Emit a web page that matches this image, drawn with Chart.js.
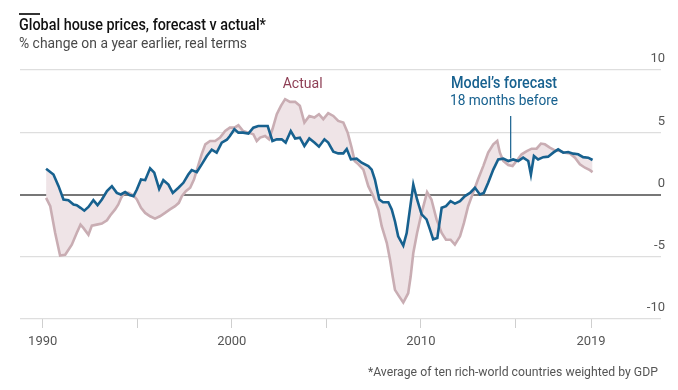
<!DOCTYPE html>
<html>
<head>
<meta charset="utf-8">
<script src="https://cdn.jsdelivr.net/npm/chart.js@4.4.1/dist/chart.umd.min.js"></script>
<style>
  body { margin: 0; background: #fff; }
  #wrap { position: relative; width: 678px; height: 390px; font-family: Roboto, "DejaVu Sans Condensed", sans-serif; }
  canvas { position: absolute; left: 0; top: 0; }
  .txt { position: absolute; white-space: nowrap; line-height: 1; }
  #rule { position: absolute; left: 19px; top: 13px; width: 21px; height: 2px; background: #333; }
  #title { left: 19px; top: 17px; font-size: 16.5px; font-weight: 500; color: #111; transform-origin: left top; }
  #subtitle { left: 19px; top: 36px; font-size: 15px; color: #4a4a4a; transform-origin: left top; }
  #note { right: 20px; top: 365px; font-size: 13.5px; color: #555; transform-origin: right top; }
</style>
</head>
<body>
<div id="wrap">
  <canvas id="chart" width="678" height="390"></canvas>
  <div id="rule"></div>
  <div class="txt" id="title" data-w="247">Global house prices, forecast v actual*</div>
  <div class="txt" id="subtitle" data-w="228">% change on a year earlier, real terms</div>
  <div class="txt" id="note" data-w="290">*Average of ten rich-world countries weighted by GDP</div>
</div>
<script>
const FONT = 'Roboto, "DejaVu Sans Condensed", sans-serif';

// Model's forecast made 18 months before (% change, real terms)
const forecastYears = [
  1990.18, 1990.57, 1990.84, 1991.1, 1991.36, 1991.63, 1991.8, 1992.0, 1992.2, 1992.42,
  1992.68, 1992.9, 1993.13, 1993.4, 1993.66, 1993.92, 1994.13, 1994.36, 1994.59, 1994.8,
  1994.98, 1995.2, 1995.42, 1995.68, 1995.9, 1996.16, 1996.38, 1996.65, 1996.88, 1997.18,
  1997.44, 1997.7, 1997.88, 1998.15, 1998.41, 1998.68, 1998.94, 1999.2, 1999.47, 1999.74,
  1999.9, 2000.14, 2000.35, 2000.6, 2000.88, 2001.14, 2001.4, 2001.67, 2001.9, 2002.15,
  2002.38, 2002.64, 2002.85, 2003.12, 2003.35, 2003.6, 2003.84, 2004.1, 2004.37, 2004.61,
  2004.9, 2005.1, 2005.37, 2005.63, 2005.9, 2006.08, 2006.3, 2006.6, 2006.87, 2007.22,
  2007.4, 2007.57, 2007.8, 2008.0, 2008.28, 2008.46, 2008.63, 2008.8, 2009.07, 2009.25,
  2009.42, 2009.6, 2009.8, 2010.04, 2010.3, 2010.48, 2010.65, 2010.87, 2011.1, 2011.33,
  2011.57, 2011.8, 2012.07, 2012.33, 2012.6, 2012.86, 2013.12, 2013.33, 2013.56, 2013.83,
  2014.09, 2014.36, 2014.62, 2014.88, 2015.15, 2015.41, 2015.68, 2015.82, 2015.98, 2016.2,
  2016.47, 2016.73, 2017.0, 2017.26, 2017.53, 2017.79, 2018.06, 2018.32, 2018.58, 2018.85,
  2019.08
];
const forecastValues = [
  2.07, 1.6, 0.67, -0.4, -0.46, -0.8, -0.86, -1.07, -1.3, -1.0,
  -0.46, -0.86, -0.4, 0.27, 0.67, 0.13, 0.0, 0.2, -0.05, -0.13,
  0.4, 1.2, 1.15, 2.1, 1.75, 0.45, 1.15, 0.8, 0.13, 0.54,
  0.94, 1.6, 1.96, 1.8, 2.42, 3.09, 3.6, 3.36, 4.17, 4.4,
  4.7, 5.24, 4.97, 4.97, 4.9, 5.37, 5.5, 5.5, 5.5, 4.3,
  4.43, 4.43, 4.17, 5.1, 4.5, 4.57, 3.9, 4.5, 4.17, 3.84,
  4.43, 4.17, 3.44, 3.3, 3.3, 3.65, 2.82, 2.88, 2.55, 2.28,
  2.0, 1.2, -0.4, -0.62, -0.62, -1.2, -2.15, -3.36, -4.1, -3.1,
  -1.2, 0.8, -0.4, -1.6, -2.0, -2.8, -3.6, -3.5, -1.07, -0.94,
  -0.54, -0.73, -0.54, -0.13, 0.13, 0.54, 0.0, 0.13, 0.94, 2.0,
  2.82, 2.88, 2.69, 2.82, 2.69, 2.96, 2.69, 1.6, 3.09, 2.82,
  3.0, 3.04, 3.36, 3.63, 3.36, 3.41, 3.28, 3.23, 3.0, 2.96,
  2.77
];

// Actual house-price change
const actualYears = [
  1990.18, 1990.4, 1990.66, 1990.92, 1991.19, 1991.54, 1991.8, 1992.0, 1992.16, 1992.42,
  1992.6, 1992.86, 1993.13, 1993.4, 1993.57, 1993.83, 1994.0, 1994.15, 1994.32, 1994.54,
  1994.8, 1994.98, 1995.2, 1995.42, 1995.68, 1995.94, 1996.2, 1996.47, 1996.73, 1997.0,
  1997.2, 1997.36, 1997.57, 1997.8, 1998.0, 1998.2, 1998.4, 1998.6, 1998.85, 1999.12,
  1999.38, 1999.65, 1999.9, 2000.14, 2000.35, 2000.6, 2000.88, 2001.14, 2001.32, 2001.5,
  2001.76, 2001.97, 2002.15, 2002.38, 2002.6, 2002.82, 2003.08, 2003.35, 2003.6, 2003.84,
  2004.1, 2004.37, 2004.61, 2004.84, 2005.1, 2005.37, 2005.63, 2005.9, 2006.13, 2006.34,
  2006.5, 2006.7, 2006.96, 2007.22, 2007.48, 2007.75, 2007.93, 2008.2, 2008.37, 2008.51,
  2008.63, 2008.86, 2009.07, 2009.33, 2009.46, 2009.6, 2009.8, 2010.04, 2010.33, 2010.56,
  2010.83, 2011.1, 2011.33, 2011.57, 2011.8, 2012.07, 2012.28, 2012.5, 2012.76, 2013.02,
  2013.3, 2013.56, 2013.83, 2014.04, 2014.18, 2014.36, 2014.62, 2014.85, 2015.06, 2015.33,
  2015.6, 2015.86, 2016.12, 2016.35, 2016.56, 2016.82, 2017.09, 2017.35, 2017.62, 2017.88,
  2018.15, 2018.41, 2018.68, 2018.94, 2019.08
];
const actualValues = [
  -0.27, -0.94, -3.1, -4.9, -4.84, -4.03, -3.1, -2.42, -2.7, -3.23,
  -2.5, -2.42, -2.34, -2.07, -1.69, -1.2, -0.8, -0.27, 0.13, 0.13,
  -0.08, -0.4, -1.07, -1.48, -1.75, -1.94, -1.75, -1.48, -1.2, -0.94,
  -0.67, -0.13, 0.27, 0.54, 1.2, 2.2, 3.2, 4.03, 4.3, 4.3,
  4.57, 5.1, 5.37, 5.37, 5.56, 5.1, 4.97, 4.84, 4.3, 4.57,
  4.7, 4.43, 5.24, 6.45, 7.12, 7.66, 7.44, 7.44, 7.12, 5.78,
  6.31, 6.18, 6.45, 6.05, 6.53, 6.31, 5.91, 5.78, 4.97, 3.76,
  2.69, 2.42, 2.0, 0.67, -0.13, -1.2, -2.55, -3.9, -5.24, -6.59,
  -7.66, -8.2, -8.68, -7.93, -6.59, -4.7, -3.09, -1.48, 0.19, -0.4,
  -2.0, -3.09, -3.63, -3.63, -4.03, -3.36, -2.28, -0.94, 0.13, 1.2,
  2.28, 3.36, 4.03, 4.3, 3.36, 2.69, 2.37, 2.28, 2.69, 3.23,
  3.49, 3.68, 3.68, 4.09, 4.03, 3.76, 3.55, 3.49, 3.36, 3.3,
  2.96, 2.42, 2.15, 1.96, 1.8
];

const xTicks = [1990, 1995, 2000, 2005, 2010, 2015, 2019];
const xLabels = [1990, 2000, 2010, 2019];
const yTicks = [-10, -5, 0, 5, 10];

const BLUE = '#17618f';
const PINK = '#c9adb3';
const PINK_FILL = '#efe4e7';
const MAROON = '#8e3f55';

const toPoints = (xs, ys) => xs.map((x, i) => ({ x: x, y: ys[i] }));

// squeeze the html text to the condensed widths of the original
function fitTexts() {
  document.querySelectorAll('.txt').forEach(el => {
    el.style.transform = 'none';
    const w = el.getBoundingClientRect().width;
    el.style.transform = 'scaleX(' + (Number(el.dataset.w) / w) + ')';
  });
}
fitTexts();
document.fonts.ready.then(fitTexts);

const annotations = {
  id: 'annotations',
  afterDatasetsDraw(chart) {
    const ctx = chart.ctx;
    const x = chart.scales.x;
    const y = chart.scales.y;
    ctx.save();
    // pointer line for the forecast label
    ctx.strokeStyle = BLUE;
    ctx.lineWidth = 1.2;
    ctx.beginPath();
    ctx.moveTo(x.getPixelForValue(2014.75), y.getPixelForValue(6.3));
    ctx.lineTo(x.getPixelForValue(2014.75), y.getPixelForValue(2.9));
    ctx.stroke();

    ctx.textAlign = 'center';
    ctx.textBaseline = 'middle';
    ctx.fillStyle = BLUE;
    ctx.font = '500 16.5px ' + FONT;
    ctx.fillText('Model’s forecast', x.getPixelForValue(2014.4), y.getPixelForValue(8.85), 106);
    ctx.font = '15px ' + FONT;
    ctx.fillText('18 months before', x.getPixelForValue(2014.4), y.getPixelForValue(7.5), 108);

    ctx.fillStyle = MAROON;
    ctx.font = '15px ' + FONT;
    ctx.fillText('Actual', x.getPixelForValue(2003.75), y.getPixelForValue(8.85), 40);
    ctx.restore();
  }
};

new Chart(document.getElementById('chart'), {
  type: 'line',
  data: {
    datasets: [
      {
        label: 'Model’s forecast',
        data: toPoints(forecastYears, forecastValues),
        borderColor: BLUE,
        borderWidth: 2.6,
        pointRadius: 0,
        tension: 0,
        fill: false
      },
      {
        label: 'Actual',
        data: toPoints(actualYears, actualValues),
        borderColor: PINK,
        borderWidth: 2.6,
        backgroundColor: PINK_FILL,
        pointRadius: 0,
        tension: 0,
        fill: '-1'
      }
    ]
  },
  options: {
    responsive: false,
    animation: false,
    devicePixelRatio: 1,
    layout: { padding: { left: 20, right: 17, top: 70, bottom: 0 } },
    plugins: {
      legend: { display: false },
      tooltip: { enabled: false }
    },
    scales: {
      x: {
        type: 'linear',
        min: 1988.8,
        max: 2022.7,
        afterBuildTicks: (s) => { s.ticks = xTicks.map(v => ({ value: v })); },
        afterFit: (s) => { s.height = 71; },
        border: { display: false },
        grid: { drawOnChartArea: false, drawTicks: true, tickLength: 9, color: '#cfcfcf' },
        ticks: {
          autoSkip: false,
          maxRotation: 0,
          padding: 6,
          color: '#555',
          font: { family: FONT, size: 13 },
          callback: (v) => xLabels.includes(v) ? String(v) : ''
        }
      },
      y: {
        position: 'right',
        min: -10,
        max: 10,
        afterBuildTicks: (s) => { s.ticks = yTicks.map(v => ({ value: v })); },
        afterFit: (s) => { s.width = 0; },
        border: { display: false },
        grid: {
          drawTicks: false,
          color: (c) => c.tick && c.tick.value === 0 ? '#777' : '#dedede',
          lineWidth: (c) => c.tick && c.tick.value === 0 ? 2 : 1.2
        },
        ticks: {
          mirror: true,
          padding: 4,
          labelOffset: -11,
          color: '#555',
          font: { family: FONT, size: 13 }
        }
      }
    }
  },
  plugins: [annotations]
});
</script>
</body>
</html>
